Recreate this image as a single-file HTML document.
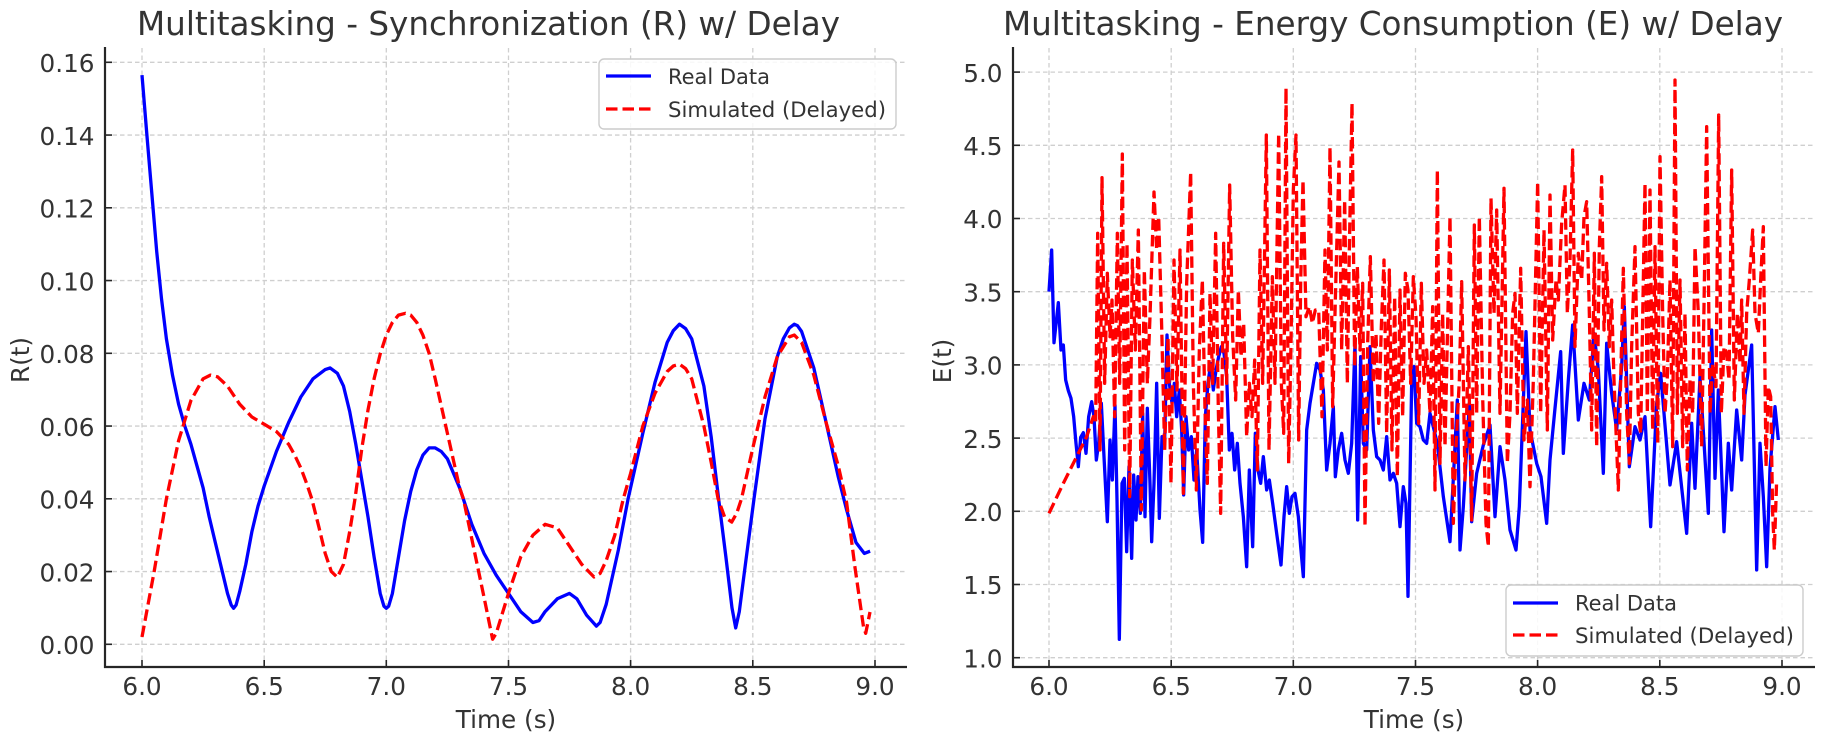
<!DOCTYPE html>
<html>
<head>
<meta charset="utf-8">
<style>
  html,body{margin:0;padding:0;background:#fff;}
  svg{display:block;}
  text{font-family:"DejaVu Sans","Liberation Sans",sans-serif;fill:#333;}
</style>
</head>
<body>
<svg width="1831" height="740" viewBox="0 0 1831 740" xmlns="http://www.w3.org/2000/svg">
  <rect x="0" y="0" width="1831" height="740" fill="#fff"/>
  <defs>
    <clipPath id="cl"><rect x="105" y="48" width="802" height="619"/></clipPath>
    <clipPath id="cr"><rect x="1013" y="48" width="802" height="619"/></clipPath>
  </defs>

  <!-- ================= LEFT PLOT ================= -->
  <g stroke="#cfcfcf" stroke-width="1.3" stroke-dasharray="4.5 3" fill="none">
    <line x1="142" y1="48" x2="142" y2="667"/>
    <line x1="264.2" y1="48" x2="264.2" y2="667"/>
    <line x1="386.3" y1="48" x2="386.3" y2="667"/>
    <line x1="508.5" y1="48" x2="508.5" y2="667"/>
    <line x1="630.6" y1="48" x2="630.6" y2="667"/>
    <line x1="752.8" y1="48" x2="752.8" y2="667"/>
    <line x1="875" y1="48" x2="875" y2="667"/>
    <line x1="105" y1="644.3" x2="907" y2="644.3"/>
    <line x1="105" y1="571.55" x2="907" y2="571.55"/>
    <line x1="105" y1="498.8" x2="907" y2="498.8"/>
    <line x1="105" y1="426.05" x2="907" y2="426.05"/>
    <line x1="105" y1="353.3" x2="907" y2="353.3"/>
    <line x1="105" y1="280.55" x2="907" y2="280.55"/>
    <line x1="105" y1="207.8" x2="907" y2="207.8"/>
    <line x1="105" y1="135.05" x2="907" y2="135.05"/>
    <line x1="105" y1="62.3" x2="907" y2="62.3"/>
  </g>

  <g clip-path="url(#cl)" fill="none" stroke-linejoin="round">
    <polyline stroke="#0000ff" stroke-width="3.3" points="142.0,75.1 146.9,135.1 151.8,193.2 156.7,251.5 161.5,298.7 166.4,338.8 172.5,375.1 178.6,404.2 184.8,426.0 190.9,444.2 197.0,466.0 203.1,487.8 209.2,516.9 215.3,542.5 221.4,567.9 227.5,593.4 231.2,605.0 233.6,608.3 236.1,605.0 239.7,591.6 245.8,564.3 251.9,531.6 258.0,506.1 264.2,486.0 276.4,451.5 288.6,422.5 300.8,397.0 313.0,378.8 325.2,369.6 330.1,367.9 337.4,373.3 343.5,386.1 349.7,411.5 355.8,444.2 361.9,480.7 368.0,516.9 374.1,557.0 380.2,593.4 383.9,606.1 386.3,608.3 388.7,606.1 392.4,593.4 398.5,557.0 404.6,520.6 410.7,491.5 416.8,469.7 422.9,455.1 429.1,447.9 435.2,447.9 441.3,451.5 447.4,458.8 459.6,487.8 471.8,524.3 484.0,553.4 496.2,575.2 508.5,593.4 520.7,611.6 532.9,622.5 539.0,620.7 545.1,611.6 557.3,598.8 569.5,593.4 576.9,598.8 586.6,615.2 596.4,626.1 600.1,622.5 606.2,604.3 618.4,549.8 628.1,498.8 642.8,433.3 655.0,382.4 667.2,342.4 673.3,330.7 679.5,324.2 685.6,328.6 691.7,338.8 703.9,386.1 711.2,437.0 718.6,498.8 725.9,557.0 732.0,607.9 735.7,627.9 739.3,611.6 745.4,564.3 754.0,498.8 765.0,418.8 777.2,357.0 783.3,338.8 789.4,327.9 794.3,324.2 797.4,325.6 801.6,331.5 813.8,367.9 826.1,422.5 838.3,477.0 846.6,509.8 856.0,542.5 864.3,553.4 870.1,551.2"/>
    <polyline stroke="#ff0000" stroke-width="3.3" stroke-dasharray="11.5 5" points="142.0,637.0 154.2,571.3 166.4,498.8 178.6,440.6 190.9,400.6 203.1,378.8 210.4,375.1 217.7,376.9 227.5,386.1 239.7,404.2 251.9,417.0 264.2,424.2 276.4,431.5 288.6,444.2 294.7,455.1 300.8,467.9 306.9,484.2 311.8,498.8 319.1,527.9 325.2,553.4 331.3,571.5 337.4,577.4 343.5,564.3 349.7,531.6 355.0,498.8 361.9,447.9 368.0,410.0 374.1,378.8 380.2,354.0 386.3,335.1 392.4,322.4 398.5,315.1 405.4,313.3 410.7,315.1 416.8,322.4 422.9,335.1 429.1,353.3 435.2,378.8 447.4,433.3 459.6,487.8 463.4,498.8 471.8,538.9 484.0,597.1 492.6,639.2 496.2,633.4 508.5,593.4 520.7,557.0 532.9,535.2 545.1,524.3 557.3,527.9 569.5,546.1 581.7,564.3 594.0,577.0 600.1,573.4 606.2,560.6 614.8,535.2 623.3,498.8 630.6,473.4 642.8,426.1 655.0,393.3 667.2,371.5 673.3,366.0 679.5,364.2 685.6,368.6 691.7,378.8 703.9,426.1 711.2,462.4 718.1,498.8 724.6,516.9 731.7,522.1 736.7,513.3 741.5,498.8 752.8,448.0 765.0,396.9 777.2,356.9 789.4,336.8 794.3,335.1 801.6,342.4 813.8,375.1 826.1,422.5 838.3,466.0 846.6,502.4 854.9,566.8 863.5,626.9 865.7,633.3 870.0,612.0"/>
  </g>

  <!-- spines & ticks left -->
  <g stroke="#262626" fill="none">
    <line x1="105" y1="47" x2="105" y2="668" stroke-width="2.2"/>
    <line x1="104" y1="667" x2="907" y2="667" stroke-width="2.2"/>
    <g stroke-width="1.6">
      <line x1="142" y1="667" x2="142" y2="660"/>
      <line x1="264.2" y1="667" x2="264.2" y2="660"/>
      <line x1="386.3" y1="667" x2="386.3" y2="660"/>
      <line x1="508.5" y1="667" x2="508.5" y2="660"/>
      <line x1="630.6" y1="667" x2="630.6" y2="660"/>
      <line x1="752.8" y1="667" x2="752.8" y2="660"/>
      <line x1="875" y1="667" x2="875" y2="660"/>
      <line x1="105" y1="644.3" x2="112" y2="644.3"/>
      <line x1="105" y1="571.55" x2="112" y2="571.55"/>
      <line x1="105" y1="498.8" x2="112" y2="498.8"/>
      <line x1="105" y1="426.05" x2="112" y2="426.05"/>
      <line x1="105" y1="353.3" x2="112" y2="353.3"/>
      <line x1="105" y1="280.55" x2="112" y2="280.55"/>
      <line x1="105" y1="207.8" x2="112" y2="207.8"/>
      <line x1="105" y1="135.05" x2="112" y2="135.05"/>
      <line x1="105" y1="62.3" x2="112" y2="62.3"/>
    </g>
  </g>
  <g font-size="24.7" text-anchor="end">
    <text x="94.5" y="654">0.00</text>
    <text x="94.5" y="581.3">0.02</text>
    <text x="94.5" y="508.5">0.04</text>
    <text x="94.5" y="435.8">0.06</text>
    <text x="94.5" y="363">0.08</text>
    <text x="94.5" y="290.3">0.10</text>
    <text x="94.5" y="217.5">0.12</text>
    <text x="94.5" y="144.8">0.14</text>
    <text x="94.5" y="72">0.16</text>
  </g>
  <g font-size="24.7" text-anchor="middle">
    <text x="142" y="695">6.0</text>
    <text x="264.2" y="695">6.5</text>
    <text x="386.3" y="695">7.0</text>
    <text x="508.5" y="695">7.5</text>
    <text x="630.6" y="695">8.0</text>
    <text x="752.8" y="695">8.5</text>
    <text x="875" y="695">9.0</text>
  </g>
  <text x="506" y="728" font-size="24.7" text-anchor="middle">Time (s)</text>
  <text x="0" y="0" font-size="24.7" text-anchor="middle" transform="translate(29,360) rotate(-90)">R(t)</text>
  <text x="137" y="35" font-size="32.6" textLength="703" lengthAdjust="spacingAndGlyphs">Multitasking - Synchronization (R) w/ Delay</text>

  <!-- legend left -->
  <rect x="599" y="59" width="297" height="70" rx="5" ry="5" fill="#fff" fill-opacity="0.85" stroke="#cccccc" stroke-width="1.4"/>
  <line x1="606" y1="76" x2="651" y2="76" stroke="#0000ff" stroke-width="3.3"/>
  <line x1="606" y1="109" x2="651" y2="109" stroke="#ff0000" stroke-width="3.3" stroke-dasharray="11.5 5"/>
  <text x="668" y="84" font-size="21" textLength="102" lengthAdjust="spacingAndGlyphs">Real Data</text>
  <text x="668" y="117" font-size="21" textLength="218" lengthAdjust="spacingAndGlyphs">Simulated (Delayed)</text>

  <!-- ================= RIGHT PLOT ================= -->
  <g stroke="#cfcfcf" stroke-width="1.3" stroke-dasharray="4.5 3" fill="none">
    <line x1="1049" y1="48" x2="1049" y2="667"/>
    <line x1="1171.2" y1="48" x2="1171.2" y2="667"/>
    <line x1="1293.3" y1="48" x2="1293.3" y2="667"/>
    <line x1="1415.5" y1="48" x2="1415.5" y2="667"/>
    <line x1="1537.6" y1="48" x2="1537.6" y2="667"/>
    <line x1="1659.8" y1="48" x2="1659.8" y2="667"/>
    <line x1="1782" y1="48" x2="1782" y2="667"/>
    <line x1="1013" y1="657.7" x2="1815" y2="657.7"/>
    <line x1="1013" y1="584.5" x2="1815" y2="584.5"/>
    <line x1="1013" y1="511.3" x2="1815" y2="511.3"/>
    <line x1="1013" y1="438.1" x2="1815" y2="438.1"/>
    <line x1="1013" y1="364.9" x2="1815" y2="364.9"/>
    <line x1="1013" y1="291.7" x2="1815" y2="291.7"/>
    <line x1="1013" y1="218.5" x2="1815" y2="218.5"/>
    <line x1="1013" y1="145.3" x2="1815" y2="145.3"/>
    <line x1="1013" y1="72.1" x2="1815" y2="72.1"/>
  </g>

  <g clip-path="url(#cr)">
    <g transform="translate(1030 150) scale(0.333333)" fill="none" stroke-linejoin="round">
      <polyline stroke="#0000ff" stroke-width="9.9" points="57,425 65,300 72,578 85,458 93,600 100,585 107,690 115,722 123,745 131,800 138,880 145,950 152,862 160,848 168,910 176,800 185,755 192,800 199,930 206,880 214,760 222,920 232,1115 240,870 247,990 255,765 261,1050 268,1468 276,1000 283,985 290,1205 297,950 305,1225 311,975 318,1110 324,980 331,1090 338,790 345,1100 352,775 360,1000 365,1175 372,1000 380,700 388,1105 396,860 404,870 411,555 418,700 426,760 433,700 440,800 448,720 455,840 461,1035 468,800 476,900 484,860 492,990 500,900 510,1080 518,1177 526,800 534,700 542,640 550,720 558,660 566,620 574,590 582,610 590,680 598,900 606,850 614,960 622,880 630,1000 640,1100 650,1250 658,960 668,1190 676,850 684,960 692,1000 700,920 710,1020 718,990 728,1060 740,1150 753,1245 762,1100 770,1010 778,1090 786,1040 795,1030 805,1100 812,1190 820,1280 830,840 840,760 850,700 860,640 870,660 880,720 890,960 900,880 910,770 916,980 925,900 935,850 945,930 955,970 965,880 975,580 983,1110 992,620 1000,880 1010,900 1020,590 1030,840 1040,920 1050,930 1060,960 1070,860 1080,990 1090,970 1100,1000 1110,1130 1120,1010 1128,1060 1134,1339 1145,700 1152,650 1160,820 1170,830 1180,870 1190,880 1200,790 1222,880 1240,1040 1260,1175 1270,985 1282,750 1290,1200 1300,1070 1318,760 1325,1115 1340,970 1360,885 1380,825 1395,1100 1410,890 1425,990 1440,1140 1458,1200 1468,1070 1488,545 1500,840 1520,940 1533,980 1550,1120 1560,930 1575,775 1592,605 1600,910 1615,690 1628,525 1645,810 1662,700 1678,750 1692,550 1705,660 1720,970 1730,580 1745,730 1760,840 1775,650 1783,470 1798,950 1815,830 1830,870 1845,800 1862,1130 1880,760 1892,670 1920,1005 1940,875 1970,1150 1985,820 1995,1015 2010,680 2035,1090 2045,540 2055,985 2065,720 2082,1145 2095,880 2105,1020 2120,780 2135,930 2145,735 2165,585 2180,1260 2190,880 2200,1040 2210,1250 2220,955 2235,770 2245,870"/>
      <polyline stroke="#ff0000" stroke-width="9.9" stroke-dasharray="34.5 15" points="57,1090 100,1000 140,920 170,860 190,800 197,820 203,250 210,900 216,83 224,700 232,370 240,560 246,450 254,800 262,250 269,700 277,12 284,900 291,280 299,1040 307,330 316,600 325,240 334,1080 343,360 352,700 360,500 372,126 380,300 386,200 395,530 404,900 414,560 423,1000 432,330 441,720 450,300 460,1030 470,400 482,66 490,700 499,1020 508,600 517,390 525,780 532,1000 540,430 548,700 557,250 565,780 572,1090 581,280 590,700 599,105 608,560 617,750 625,420 633,620 641,520 650,860 658,700 666,800 674,630 682,960 690,300 698,700 709,-45 717,900 727,380 735,700 746,-50 754,700 761,850 768,-186 776,940 783,580 790,120 798,-45 806,870 812,400 819,90 828,500 838,470 847,520 856,480 866,480 876,800 885,300 892,600 900,-9 908,770 916,450 927,36 935,600 944,150 952,700 958,300 966,-141 974,650 982,350 990,600 998,400 1005,1130 1013,580 1021,320 1030,700 1038,550 1046,820 1054,530 1062,330 1070,850 1078,360 1086,900 1094,440 1102,980 1110,420 1118,800 1126,370 1134,420 1142,700 1150,380 1158,500 1166,820 1174,400 1182,700 1190,600 1200,790 1208,470 1215,1020 1222,60 1230,940 1238,490 1245,890 1260,200 1270,1120 1278,890 1288,690 1295,395 1305,990 1315,590 1325,1110 1333,225 1340,790 1348,200 1358,740 1368,1120 1375,1190 1383,145 1392,490 1400,180 1410,790 1422,115 1432,940 1440,790 1448,490 1455,430 1462,790 1472,355 1482,870 1492,750 1500,1010 1510,690 1523,95 1532,790 1542,240 1552,840 1560,135 1568,570 1578,390 1585,450 1595,220 1605,105 1612,490 1620,330 1628,0 1635,590 1645,310 1655,390 1662,200 1670,155 1678,490 1685,840 1693,310 1700,890 1708,290 1715,80 1722,540 1730,340 1738,590 1745,450 1752,690 1765,1020 1772,690 1780,355 1790,790 1798,940 1805,590 1815,290 1825,790 1832,850 1845,100 1852,790 1860,120 1868,840 1875,290 1883,880 1890,20 1898,490 1905,790 1912,680 1920,390 1928,890 1935,-210 1942,790 1950,390 1958,890 1965,490 1972,960 1980,690 1988,790 1995,290 2005,490 2015,890 2022,470 2030,-70 2040,790 2048,640 2058,710 2066,-105 2074,790 2082,590 2090,610 2097,690 2105,60 2113,750 2122,490 2130,640 2135,450 2142,790 2150,490 2158,390 2168,240 2175,490 2185,550 2192,390 2200,230 2208,950 2215,710 2222,740 2228,1090 2233,1200 2240,990"/>
    </g>
  </g>

  <!-- spines & ticks right -->
  <g stroke="#262626" fill="none">
    <line x1="1013" y1="47" x2="1013" y2="668" stroke-width="2.2"/>
    <line x1="1012" y1="667" x2="1815" y2="667" stroke-width="2.2"/>
    <g stroke-width="1.6">
      <line x1="1049" y1="667" x2="1049" y2="660"/>
      <line x1="1171.2" y1="667" x2="1171.2" y2="660"/>
      <line x1="1293.3" y1="667" x2="1293.3" y2="660"/>
      <line x1="1415.5" y1="667" x2="1415.5" y2="660"/>
      <line x1="1537.6" y1="667" x2="1537.6" y2="660"/>
      <line x1="1659.8" y1="667" x2="1659.8" y2="660"/>
      <line x1="1782" y1="667" x2="1782" y2="660"/>
      <line x1="1013" y1="657.7" x2="1020" y2="657.7"/>
      <line x1="1013" y1="584.5" x2="1020" y2="584.5"/>
      <line x1="1013" y1="511.3" x2="1020" y2="511.3"/>
      <line x1="1013" y1="438.1" x2="1020" y2="438.1"/>
      <line x1="1013" y1="364.9" x2="1020" y2="364.9"/>
      <line x1="1013" y1="291.7" x2="1020" y2="291.7"/>
      <line x1="1013" y1="218.5" x2="1020" y2="218.5"/>
      <line x1="1013" y1="145.3" x2="1020" y2="145.3"/>
      <line x1="1013" y1="72.1" x2="1020" y2="72.1"/>
    </g>
  </g>
  <g font-size="24.7" text-anchor="end">
    <text x="1002.5" y="667.4">1.0</text>
    <text x="1002.5" y="594.2">1.5</text>
    <text x="1002.5" y="521">2.0</text>
    <text x="1002.5" y="447.8">2.5</text>
    <text x="1002.5" y="374.6">3.0</text>
    <text x="1002.5" y="301.4">3.5</text>
    <text x="1002.5" y="228.2">4.0</text>
    <text x="1002.5" y="155">4.5</text>
    <text x="1002.5" y="81.8">5.0</text>
  </g>
  <g font-size="24.7" text-anchor="middle">
    <text x="1049" y="695">6.0</text>
    <text x="1171.2" y="695">6.5</text>
    <text x="1293.3" y="695">7.0</text>
    <text x="1415.5" y="695">7.5</text>
    <text x="1537.6" y="695">8.0</text>
    <text x="1659.8" y="695">8.5</text>
    <text x="1782" y="695">9.0</text>
  </g>
  <text x="1414" y="728" font-size="24.7" text-anchor="middle">Time (s)</text>
  <text x="0" y="0" font-size="24.7" text-anchor="middle" transform="translate(951,361) rotate(-90)">E(t)</text>
  <text x="1003" y="35" font-size="32.6" textLength="780" lengthAdjust="spacingAndGlyphs">Multitasking - Energy Consumption (E) w/ Delay</text>

  <!-- legend right -->
  <rect x="1506" y="585" width="297" height="71" rx="5" ry="5" fill="#fff" fill-opacity="0.85" stroke="#cccccc" stroke-width="1.4"/>
  <line x1="1513" y1="603" x2="1558" y2="603" stroke="#0000ff" stroke-width="3.3"/>
  <line x1="1513" y1="635" x2="1558" y2="635" stroke="#ff0000" stroke-width="3.3" stroke-dasharray="11.5 5"/>
  <text x="1575" y="610.5" font-size="21" textLength="102" lengthAdjust="spacingAndGlyphs">Real Data</text>
  <text x="1575" y="643" font-size="21" textLength="219" lengthAdjust="spacingAndGlyphs">Simulated (Delayed)</text>
</svg>
</body>
</html>
